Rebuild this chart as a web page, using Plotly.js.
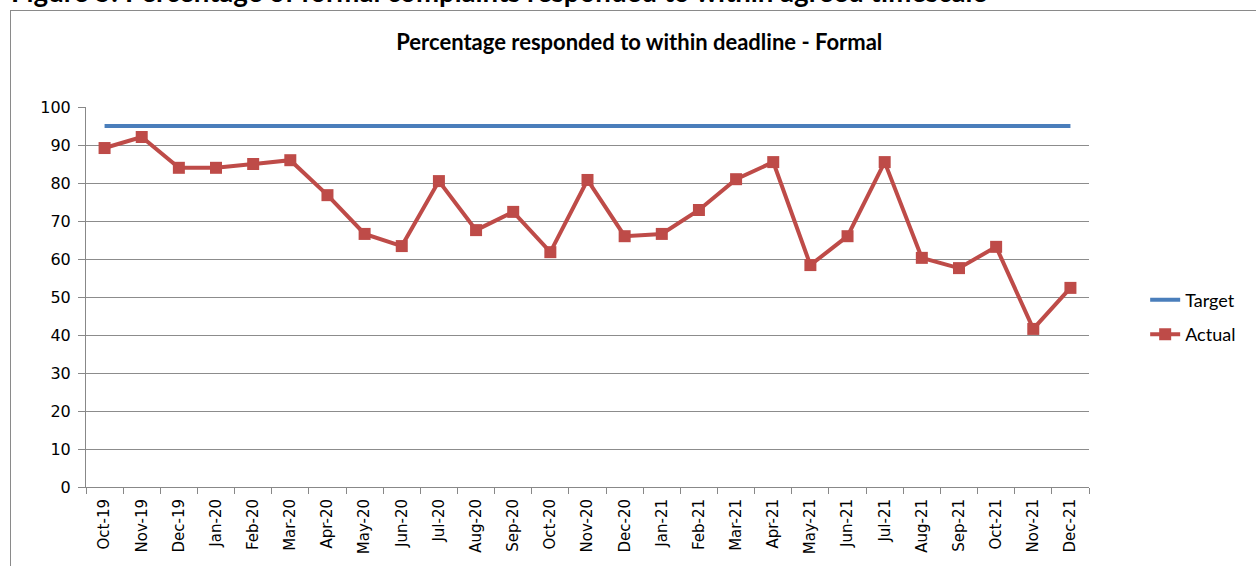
<!DOCTYPE html>
<html>
<head>
<meta charset="utf-8">
<script src="https://cdn.plot.ly/plotly-3.0.1.min.js"></script>
<style>
  html, body { margin: 0; padding: 0; background: #fff; }
  #wrap { position: relative; width: 1256px; height: 566px; overflow: hidden; }
  #chart { width: 1256px; height: 566px; }
  #frame { position: absolute; left: 10px; top: 10px; width: 1260px; height: 600px;
           border: 1px solid #8a8a8a; pointer-events: none; box-sizing: border-box; }
</style>
</head>
<body>
<div id="wrap">
  <div id="chart"></div>
  <div id="frame"></div>
</div>
<script>
const months = ["Oct-19","Nov-19","Dec-19","Jan-20","Feb-20","Mar-20","Apr-20","May-20","Jun-20",
  "Jul-20","Aug-20","Sep-20","Oct-20","Nov-20","Dec-20","Jan-21","Feb-21","Mar-21","Apr-21",
  "May-21","Jun-21","Jul-21","Aug-21","Sep-21","Oct-21","Nov-21","Dec-21"];
const targetValues = [95,95,95,95,95,95,95,95,95,95,95,95,95,95,95,95,95,95,95,95,95,95,95,95,95,95,95];
const actualValues = [89.2,92.1,84,84,85,86,76.8,66.6,63.4,80.5,67.6,72.4,61.8,80.8,66,66.6,72.9,81,85.5,
  58.4,66,85.5,60.3,57.6,63.2,41.6,52.4];
const yTicks = [0,10,20,30,40,50,60,70,80,90,100];

const traces = [
  { x: months, y: targetValues, name: "Target", type: "scatter", mode: "lines",
    legendgroup: "a",
    line: { color: "#4a7ebb", width: 4 } },
  { x: months, y: actualValues, name: "Actual", type: "scatter", mode: "lines+markers",
    legendgroup: "b",
    line: { color: "#be4b48", width: 4 },
    marker: { symbol: "square", size: 12, color: "#be4b48" } }
];

const layout = {
  width: 1256, height: 566,
  margin: { l: 86, r: 167, t: 107, b: 79 },
  paper_bgcolor: "#fff", plot_bgcolor: "#fff",
  showlegend: true,
  title: { text: "Percentage responded to within deadline - Formal",
    font: { family: "Lato", size: 22, color: "#000", weight: "bold" },
    x: 0.509, xanchor: "center", y: 0.925, yanchor: "middle" },
  xaxis: {
    type: "category", categoryorder: "array", categoryarray: months,
    range: [-0.5, 26.5],
    tickangle: -90, tickfont: { family: "DejaVu Sans", size: 15, color: "#000" },
    ticks: "outside", tickson: "boundaries", ticklen: 6, tickcolor: "#888",
    ticklabelstandoff: 5,
    showline: true, linecolor: "#888", linewidth: 1,
    showgrid: false, zeroline: false, fixedrange: true
  },
  yaxis: {
    range: [0, 100], tickvals: yTicks, ticktext: yTicks.map(String),
    tickfont: { family: "DejaVu Sans", size: 16, color: "#000" },
    ticks: "outside", ticklen: 7, tickcolor: "#888",
    ticklabelstandoff: 4,
    showline: true, linecolor: "#888", linewidth: 1,
    showgrid: true, gridcolor: "#8c8c8c", gridwidth: 1,
    zeroline: false, fixedrange: true
  },
  legend: {
    x: 1.056, xanchor: "left", y: 0.447, yanchor: "middle",
    font: { family: "Lato", size: 18, color: "#000" },
    traceorder: "grouped", tracegroupgap: 8,
    bgcolor: "rgba(0,0,0,0)", itemwidth: 30
  },
  annotations: [
    { text: "<b>Figure 5: Percentage of formal complaints responded to within agreed timescale</b>",
      xref: "paper", yref: "paper", x: -0.077, xanchor: "left",
      y: 1.255, yanchor: "bottom", showarrow: false,
      font: { family: "Lato", size: 27.6, color: "#000" } }
  ]
};

Plotly.newPlot("chart", traces, layout, { displayModeBar: false, staticPlot: true });
</script>
</body>
</html>
